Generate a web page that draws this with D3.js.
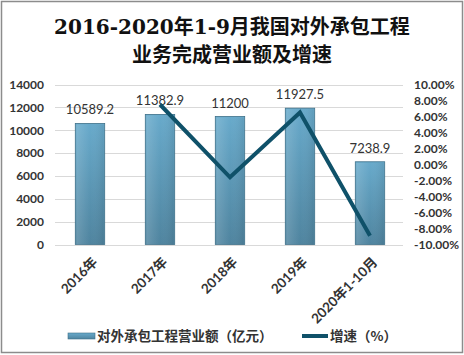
<!DOCTYPE html>
<html><head><meta charset="utf-8">
<script src="https://cdn.jsdelivr.net/npm/d3@7"></script>
<style>body{margin:0;background:#fff}svg{display:block}</style>
</head><body>
<script>
const categories = ["2016年","2017年","2018年","2019年","2020年1-10月"];
const revenue = [10589.2, 11382.9, 11200, 11927.5, 7238.9];
const revenueLabels = ["10589.2","11382.9","11200","11927.5","7238.9"];
const growth = [null, 7.5, -1.6, 6.5, -8.9];
const leftTicks = [0,2000,4000,6000,8000,10000,12000,14000];
const rightTicks = [-10,-8,-6,-4,-2,0,2,4,6,8,10];
const titleLines = ["2016-2020年1-9月我国对外承包工程","业务完成营业额及增速"];
const legendLabels = ["对外承包工程营业额（亿元）","增速（%）"];

const W=464,H=355;
const svg=d3.select("body").append("svg").attr("width",W).attr("height",H);
const defs=svg.append("defs");
const g1=defs.append("linearGradient").attr("id","bg").attr("x1",0).attr("y1",0).attr("x2",0).attr("y2",1);
g1.append("stop").attr("offset","0%").attr("stop-color","#68aacb");
g1.append("stop").attr("offset","100%").attr("stop-color","#4f849f");
const g2=defs.append("linearGradient").attr("id","bgh").attr("x1",0).attr("y1",0).attr("x2",1).attr("y2",0);
g2.append("stop").attr("offset","0%").attr("stop-color","#ffffff").attr("stop-opacity",0.15);
g2.append("stop").attr("offset","50%").attr("stop-color","#ffffff").attr("stop-opacity",0);
g2.append("stop").attr("offset","100%").attr("stop-color","#000000").attr("stop-opacity",0.08);

svg.append("rect").attr("x",1.5).attr("y",1.5).attr("width",W-3).attr("height",H-4)
  .attr("fill","#fff").attr("stroke","#8c8c8c").attr("stroke-width",1.5);

const title=svg.append("text").attr("text-anchor","middle")
  .attr("font-family","'DejaVu Serif','Noto Sans CJK SC',serif").attr("font-weight","bold")
  .attr("font-size",20).attr("fill","#111");
titleLines.forEach((t,i)=>title.append("tspan").attr("x",232).attr("y",34+i*28).text(t));

const x0=55,x1=405,yTop=84.5,yBot=244.5;
const x=d3.scaleBand().domain(categories).range([x0,x1]).paddingInner(0.58).paddingOuter(0.29);
const yL=d3.scaleLinear().domain([0,14000]).range([yBot,yTop]);
const yR=d3.scaleLinear().domain([-10,10]).range([yBot,yTop]);

// grid
svg.append("g").selectAll("line").data(leftTicks).join("line")
  .attr("x1",x0).attr("x2",403).attr("y1",d=>Math.round(yL(d))+0.5).attr("y2",d=>Math.round(yL(d))+0.5)
  .attr("stroke","#d9d9d9").attr("stroke-width",1);

// left axis
const la=svg.append("g").attr("transform",`translate(${x0-11},0)`)
  .call(d3.axisLeft(yL).tickValues(leftTicks).tickSize(0).tickPadding(0).tickFormat(d3.format("d")));
la.select(".domain").remove();
la.selectAll("text").attr("font-family","Lato,'Open Sans',sans-serif").attr("font-size",12).attr("font-weight","bold").attr("fill","#333");

// right axis
const ra=svg.append("g").attr("transform",`translate(414,0)`)
  .call(d3.axisRight(yR).tickValues(rightTicks).tickSize(0).tickPadding(0).tickFormat(d=>d.toFixed(2)+"%"));
ra.select(".domain").remove();
ra.selectAll("text").attr("font-family","Lato,'Open Sans',sans-serif").attr("font-size",12).attr("font-weight","bold").attr("fill","#333");

// bars
const bars=svg.append("g");
bars.selectAll("rect.b").data(categories).join("rect").attr("class","b")
  .attr("x",d=>x(d)).attr("width",x.bandwidth())
  .attr("y",(d,i)=>yL(revenue[i])).attr("height",(d,i)=>yBot-yL(revenue[i]))
  .attr("fill","url(#bg)").attr("stroke","#3f7189").attr("stroke-width",0.8);
bars.selectAll("rect.h").data(categories).join("rect").attr("class","h")
  .attr("x",d=>x(d)+1).attr("width",x.bandwidth()-2)
  .attr("y",(d,i)=>yL(revenue[i])+1).attr("height",(d,i)=>yBot-yL(revenue[i])-1)
  .attr("fill","url(#bgh)");

// bar labels
svg.append("g").selectAll("text").data(categories).join("text")
  .attr("x",d=>x(d)+x.bandwidth()/2).attr("y",(d,i)=>yL(revenue[i])-9)
  .attr("text-anchor","middle").attr("font-family","Lato,'Open Sans',sans-serif").attr("font-size",13)
  .attr("fill","#333").text((d,i)=>revenueLabels[i]);

// line
const pts=categories.map((c,i)=>({c,v:growth[i]})).filter(p=>p.v!==null);
svg.append("path").datum(pts)
  .attr("d",d3.line().x(p=>x(p.c)+x.bandwidth()/2).y(p=>yR(p.v)))
  .attr("fill","none").attr("stroke","#0f5169").attr("stroke-width",4).attr("stroke-linejoin","miter");

// x labels
svg.append("g").selectAll("text").data(categories).join("text")
  .attr("transform",d=>`translate(${x(d)+x.bandwidth()/2+5},${yBot+15}) rotate(-45)`)
  .attr("text-anchor","end").attr("dy","0.35em")
  .attr("font-family","Lato,'Noto Sans CJK SC',sans-serif").attr("font-size",13.5).attr("font-weight","bold")
  .attr("fill","#333").text(d=>d);

// legend
const lg=svg.append("g");
lg.append("rect").attr("x",68).attr("y",333).attr("width",27).attr("height",6).attr("fill","url(#bg)").attr("stroke","#3f7189").attr("stroke-width",0.6);
lg.append("text").attr("x",97).attr("y",336).attr("dy","0.35em").attr("font-family","'Noto Sans CJK SC',sans-serif")
  .attr("font-size",13.5).attr("font-weight","bold").attr("fill","#333").text(legendLabels[0]);
lg.append("line").attr("x1",302).attr("x2",328).attr("y1",336).attr("y2",336).attr("stroke","#0f5169").attr("stroke-width",4);
lg.append("text").attr("x",330).attr("y",336).attr("dy","0.35em").attr("font-family","'Noto Sans CJK SC',sans-serif")
  .attr("font-size",13.5).attr("font-weight","bold").attr("fill","#333").text(legendLabels[1]);
</script>
</body></html>
